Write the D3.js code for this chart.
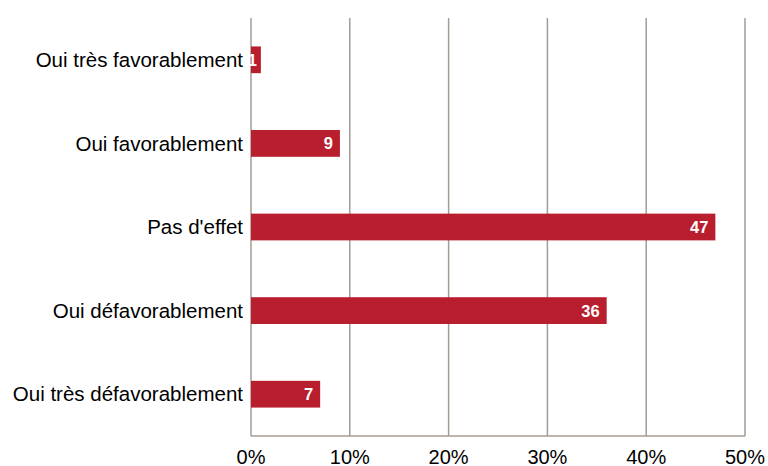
<!DOCTYPE html>
<html>
<head>
<meta charset="utf-8">
<script src="https://cdn.jsdelivr.net/npm/d3@7"></script>
<style>
  body { margin: 0; background: #fff; }
  text { font-family: "Liberation Sans", Arial, Helvetica, sans-serif; }
</style>
</head>
<body>
<div id="chart"></div>
<script>
const categories = ["Oui très favorablement", "Oui favorablement", "Pas d'effet", "Oui défavorablement", "Oui très défavorablement"];
const values = [1, 9, 47, 36, 7];
const ticks = [0, 10, 20, 30, 40, 50];

const width = 768, height = 466;
const margin = {top: 18, right: 23, bottom: 30, left: 251};
const w = width - margin.left - margin.right;
const h = height - margin.top - margin.bottom;

var xScale = d3.scaleLinear()
    .domain([0, 50])
    .range([0, w]);

var yScale = d3.scaleBand()
    .domain(categories)
    .range([0, h])
    .paddingInner(0.68)
    .paddingOuter(0.34);

var svg = d3.select("#chart")
    .append("svg")
    .attr("width", width)
    .attr("height", height);

var g = svg.append("g")
    .attr("transform", "translate(" + margin.left + "," + margin.top + ")");

// Gridlines
g.selectAll("line.grid")
    .data(ticks)
    .enter()
    .append("line")
    .attr("class", "grid")
    .attr("x1", d => xScale(d))
    .attr("x2", d => xScale(d))
    .attr("y1", 0)
    .attr("y2", h)
    .attr("stroke", "#a39c95")
    .attr("stroke-width", 1.5);

// Bottom line
g.append("line")
    .attr("x1", 0)
    .attr("x2", w)
    .attr("y1", h)
    .attr("y2", h)
    .attr("stroke", "#a39c95")
    .attr("stroke-width", 1.5);

// Tick labels
g.selectAll("text.tick")
    .data(ticks)
    .enter()
    .append("text")
    .attr("class", "tick")
    .attr("x", d => xScale(d))
    .attr("y", h + 27.5)
    .attr("text-anchor", "middle")
    .attr("font-size", 20)
    .text(d => d + "%");

// Category labels
g.selectAll("text.cat")
    .data(categories)
    .enter()
    .append("text")
    .attr("class", "cat")
    .attr("x", -8)
    .attr("y", d => yScale(d) + yScale.bandwidth() / 2)
    .attr("dy", "0.35em")
    .attr("text-anchor", "end")
    .attr("font-size", 20.5)
    .text(d => d);

// Bars
g.selectAll("rect.bar")
    .data(values)
    .enter()
    .append("rect")
    .attr("class", "bar")
    .attr("x", 0)
    .attr("y", (d, i) => yScale(categories[i]))
    .attr("width", d => xScale(d))
    .attr("height", yScale.bandwidth())
    .attr("fill", "#b81e2d");

// Value labels
g.selectAll("text.val")
    .data(values)
    .enter()
    .append("text")
    .attr("class", "val")
    .attr("x", d => Math.max(xScale(d) - 7, 6))
    .attr("y", (d, i) => yScale(categories[i]) + yScale.bandwidth() / 2)
    .attr("dy", "0.36em")
    .attr("text-anchor", "end")
    .attr("font-size", 16.5)
    .attr("font-weight", "bold")
    .attr("fill", "#fff")
    .text(d => d);
</script>
</body>
</html>
